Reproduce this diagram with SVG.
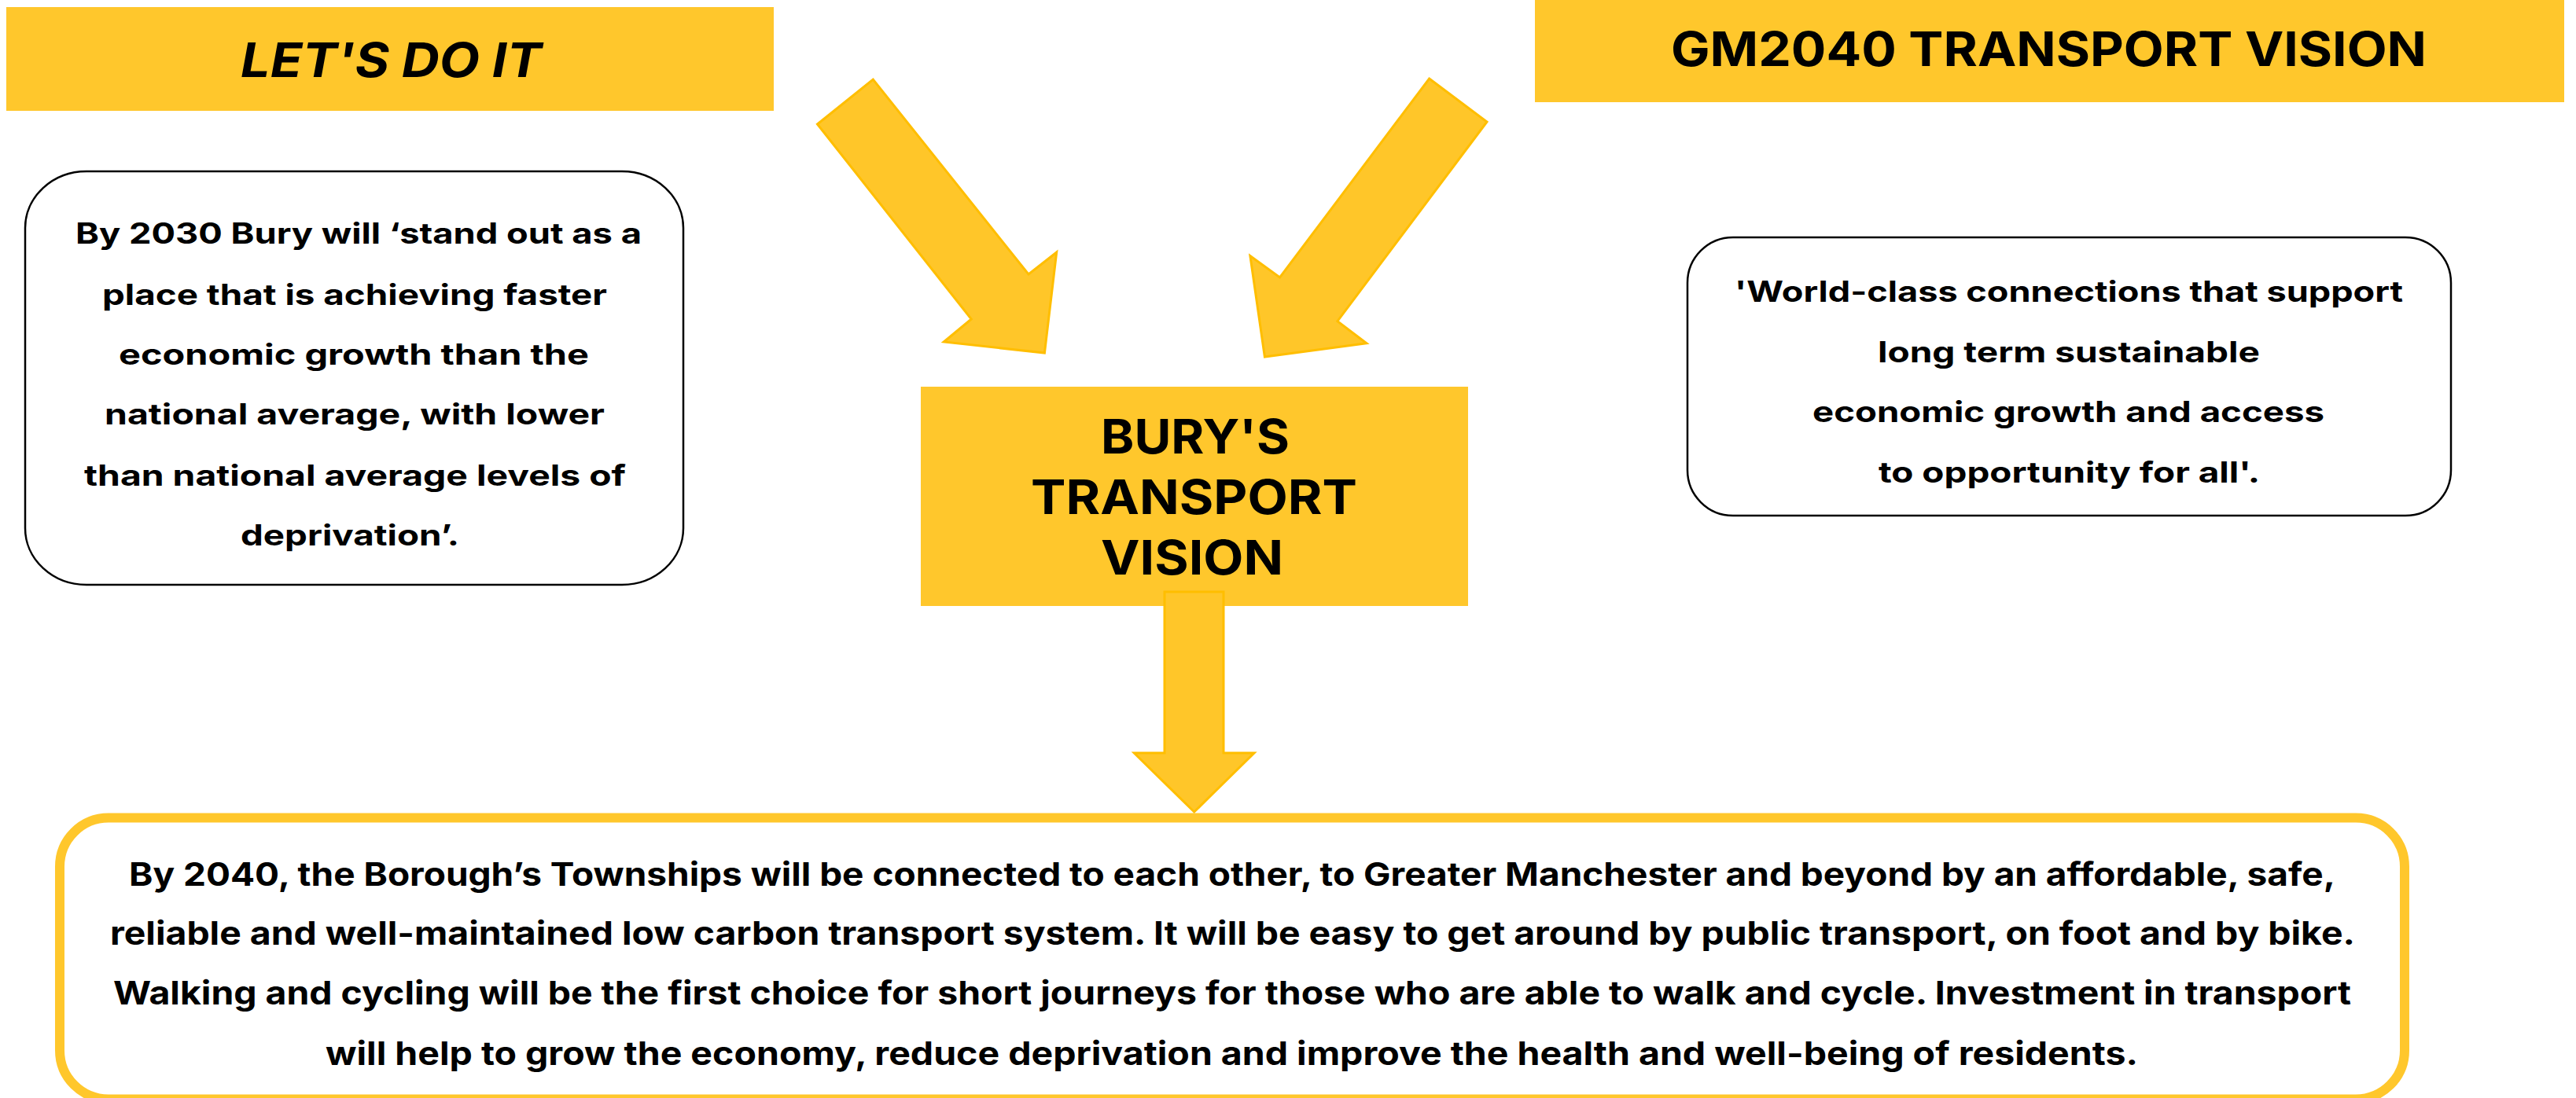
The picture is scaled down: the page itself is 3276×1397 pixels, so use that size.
<svg xmlns="http://www.w3.org/2000/svg" width="3276" height="1397" viewBox="0 0 3276 1397">
  <style>
    .band { fill: #FFC72C; }
    .arrow { fill: #FFC629; stroke: #FFBE00; stroke-width: 3; stroke-linejoin: miter; }
    .card { fill: #FFFFFF; stroke: #000000; stroke-width: 2.5; }
    .frame { fill: #FFFFFF; stroke: #FFC72C; stroke-width: 12; }
    .t { font-family: Inter, "Noto Sans", "Liberation Sans", sans-serif; font-weight: 700; fill: #000000; }
    .head { font-size: 61px; }
    .body { font-size: 37px; }
    .wide { font-size: 41px; }
  </style>

  <!-- Header band: Let's do it -->
  <g id="lets-do-it">
    <rect class="band" x="8" y="9" width="976" height="132"/>
    <text class="t head" x="306" y="98" font-style="italic" textLength="383" lengthAdjust="spacingAndGlyphs">LET'S DO IT</text>
  </g>

  <!-- Header band: GM2040 -->
  <g id="gm2040">
    <rect class="band" x="1952" y="0" width="1309" height="130"/>
    <text class="t head" x="2125" y="84" textLength="961" lengthAdjust="spacingAndGlyphs">GM2040 TRANSPORT VISION</text>
  </g>

  <!-- Bury 2030 quote card -->
  <g id="bury-2030">
    <rect class="card" x="32" y="218" width="837" height="526" rx="78" ry="72"/>
    <text class="t body" x="96" y="310" textLength="720" lengthAdjust="spacingAndGlyphs">By 2030 Bury will ‘stand out as a</text>
    <text class="t body" x="130" y="388" textLength="642" lengthAdjust="spacingAndGlyphs">place that is achieving faster</text>
    <text class="t body" x="151" y="464" textLength="598" lengthAdjust="spacingAndGlyphs">economic growth than the</text>
    <text class="t body" x="133" y="540" textLength="636" lengthAdjust="spacingAndGlyphs">national average, with lower</text>
    <text class="t body" x="107" y="618" textLength="689" lengthAdjust="spacingAndGlyphs">than national average levels of</text>
    <text class="t body" x="306" y="694" textLength="278" lengthAdjust="spacingAndGlyphs">deprivation’.</text>
  </g>

  <!-- GM2040 quote card -->
  <g id="gm2040-quote">
    <rect class="card" x="2146" y="302" width="971" height="354" rx="58" ry="58"/>
    <text class="t body" x="2206" y="384" textLength="850" lengthAdjust="spacingAndGlyphs">'World-class connections that support</text>
    <text class="t body" x="2388" y="461" textLength="486" lengthAdjust="spacingAndGlyphs">long term sustainable</text>
    <text class="t body" x="2305" y="537" textLength="651" lengthAdjust="spacingAndGlyphs">economic growth and access</text>
    <text class="t body" x="2389" y="614" textLength="485" lengthAdjust="spacingAndGlyphs">to opportunity for all'.</text>
  </g>

  <!-- Central vision block -->
  <g id="bury-vision">
    <rect class="band" x="1171" y="492" width="696" height="279"/>
    <text class="t head" x="1400" y="577" textLength="240" lengthAdjust="spacingAndGlyphs">BURY'S</text>
    <text class="t head" x="1311" y="654" textLength="415" lengthAdjust="spacingAndGlyphs">TRANSPORT</text>
    <text class="t head" x="1400" y="731" textLength="232" lengthAdjust="spacingAndGlyphs">VISION</text>
  </g>

  <!-- 2040 vision statement -->
  <g id="vision-2040">
    <rect class="frame" x="76" y="1040.5" width="2982" height="358" rx="62" ry="62"/>
    <text class="t wide" x="164" y="1127" textLength="2806" lengthAdjust="spacingAndGlyphs">By 2040, the Borough’s Townships will be connected to each other, to Greater Manchester and beyond by an affordable, safe,</text>
    <text class="t wide" x="140" y="1202" textLength="2855" lengthAdjust="spacingAndGlyphs">reliable and well-maintained low carbon transport system. It will be easy to get around by public transport, on foot and by bike.</text>
    <text class="t wide" x="144" y="1278" textLength="2846" lengthAdjust="spacingAndGlyphs">Walking and cycling will be the first choice for short journeys for those who are able to walk and cycle. Investment in transport</text>
    <text class="t wide" x="414" y="1355" textLength="2305" lengthAdjust="spacingAndGlyphs">will help to grow the economy, reduce deprivation and improve the health and well-being of residents.</text>
  </g>

  <!-- Block arrows linking the statements -->
  <g id="connectors">
    <polygon class="arrow" points="1039.5,158 1110.3,101 1308,349 1343.7,321 1328.4,449 1200.3,435 1235.3,406"/>
    <polygon class="arrow" points="1817.6,100 1891,155 1700.9,408.6 1737.9,436.7 1608.4,454 1589.9,325.5 1627.6,353"/>
    <polygon class="arrow" points="1481,753 1556,753 1556,958 1595,958 1518.7,1033 1442.3,958 1481,958"/>
  </g>
</svg>
